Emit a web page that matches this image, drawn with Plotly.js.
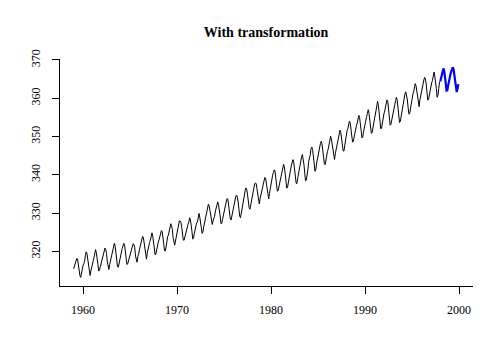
<!DOCTYPE html>
<html>
<head>
<meta charset="utf-8">
<script src="https://cdn.plot.ly/plotly-3.0.1.min.js"></script>
<style>html,body{margin:0;padding:0;background:#fff}#chart{width:504px;height:360px}</style>
</head>
<body>
<div id="chart"></div>
<script>
// Monthly CO2 concentrations (ppm), 1959-1997
const startYear = 1959;
const co2 = [
315.42,316.31,316.50,317.56,318.13,318.00,316.39,314.65,313.68,313.18,314.66,315.43,
316.27,316.81,317.42,318.87,319.87,319.43,318.01,315.74,314.00,313.68,314.84,316.03,
316.73,317.54,318.38,319.31,320.42,319.61,318.42,316.63,314.83,315.16,315.94,316.85,
317.78,318.40,319.53,320.42,320.85,320.45,319.45,317.25,316.11,315.27,316.53,317.53,
318.58,318.92,319.70,321.22,322.08,321.31,319.58,317.61,316.05,315.83,316.91,318.20,
319.41,320.07,320.74,321.40,322.06,321.73,320.27,318.54,316.54,316.71,317.53,318.55,
319.27,320.28,320.73,321.97,322.00,321.71,321.05,318.71,317.66,317.14,318.70,319.25,
320.46,321.43,322.23,323.54,323.91,323.59,322.24,320.20,318.48,317.94,319.63,320.87,
322.17,322.34,322.88,324.25,324.83,323.93,322.38,320.76,319.10,319.24,320.56,321.80,
322.40,322.99,323.73,324.86,325.40,325.20,323.98,321.95,320.18,320.09,321.16,322.74,
323.83,324.26,325.47,326.50,327.21,326.54,325.72,323.50,322.22,321.62,322.69,323.95,
324.89,325.82,326.77,327.97,327.91,327.50,326.18,324.53,322.93,322.90,323.85,324.96,
326.01,326.51,327.01,327.62,328.76,328.40,327.20,325.27,323.20,323.40,324.63,325.85,
326.60,327.47,327.58,329.56,329.90,328.92,327.88,326.16,324.68,325.04,326.34,327.39,
328.37,329.40,330.14,331.33,332.31,331.90,330.70,329.15,327.35,327.02,327.99,328.48,
329.18,330.55,331.32,332.48,332.92,332.08,331.01,329.23,327.27,327.21,328.29,329.41,
330.23,331.25,331.87,333.14,333.80,333.43,331.73,329.90,328.40,328.17,329.32,330.59,
331.58,332.39,333.33,334.41,334.71,334.17,332.89,330.77,329.14,328.78,330.14,331.52,
332.75,333.24,334.53,335.90,336.57,336.10,334.76,332.59,331.42,330.98,332.24,333.68,
334.80,335.22,336.47,337.59,337.84,337.72,336.37,334.51,332.60,332.38,333.75,334.78,
336.05,336.59,337.79,338.71,339.30,339.12,337.56,335.92,333.75,333.70,335.12,336.56,
337.84,338.19,339.91,340.60,341.29,341.00,339.39,337.43,335.72,335.84,336.93,338.04,
339.06,340.30,341.21,342.33,342.74,342.08,340.32,338.26,336.52,336.68,338.19,339.44,
340.57,341.44,342.53,343.39,343.96,343.18,341.88,339.65,337.81,337.69,339.09,340.32,
341.20,342.35,343.42,344.73,345.28,344.06,342.64,340.41,338.46,338.58,339.70,341.32,
343.52,344.33,345.11,346.88,347.25,346.62,345.22,343.11,340.90,341.18,342.80,344.04,
344.79,345.82,347.25,348.17,348.74,348.07,346.38,344.51,342.92,342.62,344.06,345.38,
346.11,346.78,347.68,349.37,350.03,349.37,347.76,345.73,344.68,343.99,345.48,346.72,
347.84,348.29,349.23,350.80,351.66,351.07,349.33,347.92,346.27,346.18,347.64,348.78,
350.25,351.54,352.05,353.41,354.04,353.62,352.22,350.27,348.55,348.72,349.91,351.18,
352.60,352.92,353.53,355.26,355.52,354.97,353.75,351.52,349.64,349.83,351.14,352.37,
353.50,354.55,355.23,356.04,357.00,356.07,354.67,352.76,350.82,351.04,352.69,354.07,
354.59,355.63,357.03,358.48,359.22,358.12,356.06,353.92,352.05,352.11,353.64,354.89,
355.88,356.63,357.72,359.07,359.58,359.17,356.94,354.92,352.94,353.23,354.09,355.33,
356.63,357.10,358.32,359.41,360.23,359.55,357.53,355.48,353.67,353.95,355.30,356.78,
358.34,358.89,359.95,361.25,361.67,360.94,359.55,357.49,355.84,356.00,357.59,359.05,
359.98,361.03,361.66,363.48,363.82,363.30,361.94,359.50,358.11,357.80,359.61,360.74,
362.09,363.29,364.06,364.76,365.45,365.01,363.70,361.54,359.51,359.65,360.80,362.38,
363.23,364.06,364.61,366.40,366.84,365.68,364.52,362.57,360.24,360.83,362.49,364.34
];
// Forecast 1998-1999
const forecastStart = 1998;
const forecast = [
364.4,365.3,366.1,367.3,367.8,367.2,365.9,363.9,362.0,362.1,363.3,364.6,
365.5,366.3,367.0,367.8,368.1,367.5,366.0,363.8,361.8,361.6,362.6,363.7
];
const xTicks = [1960,1970,1980,1990,2000];
const yTicks = [320,330,340,350,360,370];

const xObs = co2.map((v,i)=>startYear + i/12);
const xFc = forecast.map((v,i)=>forecastStart + i/12);

const traces = [
  {x:xObs, y:co2, type:'scatter', mode:'lines', line:{color:'#000000', width:1}, hoverinfo:'skip'},
  {x:xFc, y:forecast, type:'scatter', mode:'lines', line:{color:'#0000ff', width:2.2}, hoverinfo:'skip'}
];
const font = {family:'"Liberation Serif", "Times New Roman", serif', color:'#000', size:12};
const layout = {
  width:504, height:360,
  margin:{l:60, r:31, t:59, b:74, pad:0},
  paper_bgcolor:'#fff', plot_bgcolor:'#fff',
  showlegend:false,
  font:font,
  title:{text:'<b>With transformation</b>', x:0.528, xanchor:'center', y:1-32/360, yanchor:'middle',
         font:{family:font.family, size:14, color:'#000'}},
  xaxis:{range:[1957.55,2001.48], tickvals:xTicks, ticktext:xTicks.map(String),
         showgrid:false, zeroline:false, showline:true, linecolor:'#000', linewidth:1,
         ticks:'outside', ticklen:7, tickcolor:'#000', tickwidth:1, ticklabelstandoff:6,
         tickfont:font, fixedrange:true},
  yaxis:{range:[310.93,370.26], tickvals:yTicks, ticktext:yTicks.map(String),
         showgrid:false, zeroline:false, showline:true, linecolor:'#000', linewidth:1,
         ticks:'outside', ticklen:7, tickcolor:'#000', tickwidth:1, tickangle:-90, ticklabelstandoff:7,
         tickfont:font, fixedrange:true}
};
Plotly.newPlot('chart', traces, layout, {staticPlot:true, displayModeBar:false});
</script>
</body>
</html>
